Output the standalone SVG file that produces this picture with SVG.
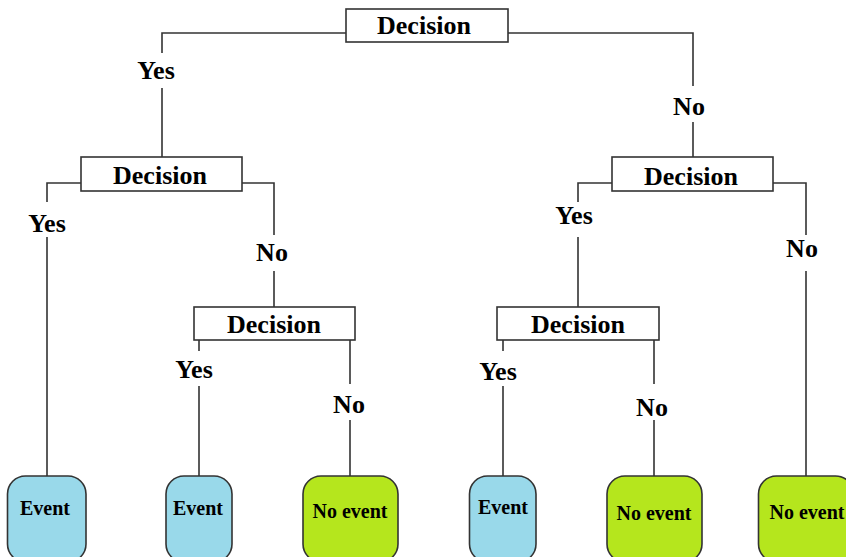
<svg xmlns="http://www.w3.org/2000/svg" width="846" height="557" viewBox="0 0 846 557">
<style>
.box{fill:#ffffff;stroke:#333333;stroke-width:1.6}
.ev{fill:#99d9ea;stroke:#333333;stroke-width:1.6}
.ne{fill:#b5e61d;stroke:#333333;stroke-width:1.6}
.ln{fill:none;stroke:#333333;stroke-width:1.6}
.t{font-family:"Liberation Serif","Times New Roman",serif;font-weight:bold;font-size:26px;fill:#000;text-anchor:middle}
.lt{font-family:"Liberation Serif","Times New Roman",serif;font-weight:bold;font-size:20px;fill:#000;text-anchor:middle}
</style>
<rect width="846" height="557" fill="#ffffff"/>
<g id="connectors">
<path class="ln" d="M346,33 H162 V53 M162,88 V157"/>
<path class="ln" d="M508,33 H693 V86 M693,122 V157"/>
<path class="ln" d="M81,183 H47 V202 M47,237 V476"/>
<path class="ln" d="M242,183 H274 V235 M274,271 V307"/>
<path class="ln" d="M199,340 V351 M199,386 V476"/>
<path class="ln" d="M350,340 V384 M350,420 V476"/>
<path class="ln" d="M612,183 H578 V202 M578,237 V307"/>
<path class="ln" d="M773,183 H806 V235 M806,271 V476"/>
<path class="ln" d="M503,340 V351 M503,386 V476"/>
<path class="ln" d="M654,340 V384 M654,420 V476"/>
<text class="t" x="156" y="79">Yes</text>
<text class="t" x="689" y="115">No</text>
<text class="t" x="47" y="232">Yes</text>
<text class="t" x="272" y="261">No</text>
<text class="t" x="574" y="224">Yes</text>
<text class="t" x="802" y="257">No</text>
<text class="t" x="194" y="378">Yes</text>
<text class="t" x="349" y="413">No</text>
<text class="t" x="498" y="380">Yes</text>
<text class="t" x="652" y="416">No</text>
</g>
<g id="d1"><rect class="box" x="346" y="9" width="162" height="33"/><text class="t" x="424" y="34">Decision</text></g>
<g id="d2"><rect class="box" x="81" y="157" width="161" height="34"/><text class="t" x="160" y="184">Decision</text></g>
<g id="d3"><rect class="box" x="612" y="157" width="161" height="34"/><text class="t" x="691" y="185">Decision</text></g>
<g id="d4"><rect class="box" x="194" y="307" width="161" height="33"/><text class="t" x="274" y="333">Decision</text></g>
<g id="d5"><rect class="box" x="497" y="307" width="162" height="33"/><text class="t" x="578" y="333">Decision</text></g>
<g id="e1"><rect class="ev" x="7.5" y="476" width="78.5" height="86" rx="18" ry="18"/><text class="lt" x="45" y="515">Event</text></g>
<g id="e2"><rect class="ev" x="166" y="476" width="66" height="86" rx="18" ry="18"/><text class="lt" x="198" y="515">Event</text></g>
<g id="n1"><rect class="ne" x="303" y="476" width="95" height="86" rx="18" ry="18"/><text class="lt" x="350" y="518">No event</text></g>
<g id="e3"><rect class="ev" x="469.5" y="476" width="66.5" height="86" rx="18" ry="18"/><text class="lt" x="503" y="514">Event</text></g>
<g id="n2"><rect class="ne" x="607" y="476" width="95" height="86" rx="18" ry="18"/><text class="lt" x="654" y="520">No event</text></g>
<g id="n3"><rect class="ne" x="758.5" y="476" width="95" height="86" rx="18" ry="18"/><text class="lt" x="807" y="519">No event</text></g>
</svg>
